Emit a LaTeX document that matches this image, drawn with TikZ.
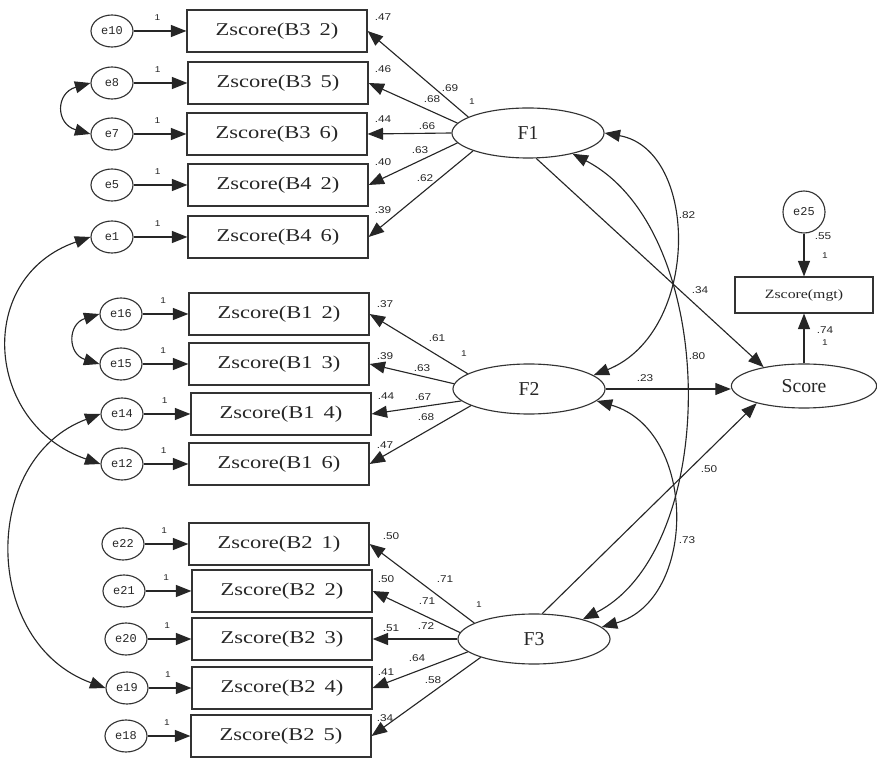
\documentclass[tikz,border=0pt]{standalone}
\usepackage{fontspec}
\setmainfont{Liberation Serif}
\newfontfamily\boxfont[FakeStretch=1.25]{Liberation Serif}
\newfontfamily\numfont[FakeStretch=1.2]{Liberation Sans}
\newfontfamily\errfont{Liberation Mono}
\usetikzlibrary{shapes.geometric,arrows.meta}

\begin{document}
\begin{tikzpicture}[
    x=0.025cm, y=-0.025cm,
    indicator/.style={rectangle, draw=black!80, line width=0.8pt, minimum width=4.5cm, minimum height=1.05cm, inner sep=0pt, text=black!85, font=\boxfont\fontsize{12.8}{14}\selectfont},
    error/.style={ellipse, draw=black!80, line width=0.8pt, minimum width=1.05cm, minimum height=0.8cm, inner sep=0pt, text=black!85, font=\errfont\fontsize{8.5}{10}\selectfont},
    latent/.style={ellipse, draw=black!80, line width=0.8pt, minimum width=3.8cm, minimum height=1.25cm, inner sep=0pt, text=black!85, font=\fontsize{14}{16}\selectfont},
    num/.style={font=\numfont\fontsize{7}{8}\selectfont, inner sep=0pt, text=black!85},
    unit/.style={font=\numfont\fontsize{6}{7}\selectfont, inner sep=0pt, text=black!85},
    one/.style={unit, pos=0.45, above=7pt},
    arrow/.style={->, >={Triangle[length=11pt, width=8.5pt]}, line width=0.8pt, draw=black!85},
    cov/.style={arrow, <->},
  ]
  \useasboundingbox (0,0) rectangle (877,761);

  % F1 block
  \node [indicator] (b32) at (277,31) {Zscore(B3\enspace 2)};
  \node [indicator] (b35) at (278,83) {Zscore(B3\enspace 5)};
  \node [indicator] (b36) at (277,134) {Zscore(B3\enspace 6)};
  \node [indicator] (b42) at (278,185) {Zscore(B4\enspace 2)};
  \node [indicator] (b46) at (278,237) {Zscore(B4\enspace 6)};
  \node [error] (e10) at (112,31) {e10};
  \node [error] (e8) at (112,83) {e8};
  \node [error] (e7) at (112,134) {e7};
  \node [error] (e5) at (112,185) {e5};
  \node [error] (e1) at (112,237) {e1};
  \draw [arrow] (e10) -- (b32) node [one] {1};
  \draw [arrow] (e8) -- (b35) node [one] {1};
  \draw [arrow] (e7) -- (b36) node [one] {1};
  \draw [arrow] (e5) -- (b42) node [one] {1};
  \draw [arrow] (e1) -- (b46) node [one] {1};
  \node [latent] (f1) at (528,133) {F1};
  \draw [arrow] (f1.165) -- (b32.east);
  \draw [arrow] (f1.172) -- (b35.east);
  \draw [arrow] (f1.180) -- (b36.east);
  \draw [arrow] (f1.188) -- (b42.east);
  \draw [arrow] (f1.198) -- (b46.east);
  \node [num] (r32) at (383,17) {.47};
  \node [num] (l32) at (450,88) {.69};
  \node [num] (r35) at (383,69) {.46};
  \node [num] (l35) at (432,99) {.68};
  \node [num] (r36) at (383,119) {.44};
  \node [num] (l36) at (427,126) {.66};
  \node [num] (r42) at (383,162) {.40};
  \node [num] (l42) at (420,150) {.63};
  \node [num] (r46) at (383,210) {.39};
  \node [num] (l46) at (425,178) {.62};
  \node [unit] (u1) at (472,102) {1};

  % F2 block
  \node [indicator] (b12) at (279,314) {Zscore(B1\enspace 2)};
  \node [indicator] (b13) at (279,364) {Zscore(B1\enspace 3)};
  \node [indicator] (b14) at (281,414) {Zscore(B1\enspace 4)};
  \node [indicator] (b16) at (279,464) {Zscore(B1\enspace 6)};
  \node [error] (e16) at (121,314) {e16};
  \node [error] (e15) at (121,364) {e15};
  \node [error] (e14) at (122,414) {e14};
  \node [error] (e12) at (122,464) {e12};
  \draw [arrow] (e16) -- (b12) node [one] {1};
  \draw [arrow] (e15) -- (b13) node [one] {1};
  \draw [arrow] (e14) -- (b14) node [one] {1};
  \draw [arrow] (e12) -- (b16) node [one] {1};
  \node [latent] (f2) at (529,389) {F2};
  \draw [arrow] (f2.166) -- (b12.east);
  \draw [arrow] (f2.176) -- (b13.east);
  \draw [arrow] (f2.190) -- (b14.east);
  \draw [arrow] (f2.196) -- (b16.east);
  \node [num] (r12) at (385,304) {.37};
  \node [num] (l12) at (437,338) {.61};
  \node [num] (r13) at (385,356) {.39};
  \node [num] (l13) at (422,368) {.63};
  \node [num] (r14) at (386,396) {.44};
  \node [num] (l14) at (423,397) {.67};
  \node [num] (r16) at (385,445) {.47};
  \node [num] (l16) at (426,417) {.68};
  \node [unit] (u2) at (464,354) {1};

  % F3 block
  \node [indicator] (b21) at (279,544) {Zscore(B2\enspace 1)};
  \node [indicator] (b22) at (282,591) {Zscore(B2\enspace 2)};
  \node [indicator] (b23) at (282,639) {Zscore(B2\enspace 3)};
  \node [indicator] (b24) at (282,688) {Zscore(B2\enspace 4)};
  \node [indicator] (b25) at (281,736) {Zscore(B2\enspace 5)};
  \node [error] (e22) at (123,544) {e22};
  \node [error] (e21) at (124,591) {e21};
  \node [error] (e20) at (126,639) {e20};
  \node [error] (e19) at (127,688) {e19};
  \node [error] (e18) at (126,736) {e18};
  \draw [arrow] (e22) -- (b21) node [one] {1};
  \draw [arrow] (e21) -- (b22) node [one] {1};
  \draw [arrow] (e20) -- (b23) node [one] {1};
  \draw [arrow] (e19) -- (b24) node [one] {1};
  \draw [arrow] (e18) -- (b25) node [one] {1};
  \node [latent] (f3) at (534,639) {F3};
  \draw [arrow] (f3.165) -- (b21.east);
  \draw [arrow] (f3.175) -- (b22.east);
  \draw [arrow] (f3.180) -- (b23.east);
  \draw [arrow] (f3.191) -- (b24.east);
  \draw [arrow] (f3.199) -- (b25.east);
  \node [num] (r21) at (391,536) {.50};
  \node [num] (l21) at (445,579) {.71};
  \node [num] (r22) at (386,579) {.50};
  \node [num] (l22) at (427,601) {.71};
  \node [num] (r23) at (391,628) {.51};
  \node [num] (l23) at (426,626) {.72};
  \node [num] (r24) at (386,672) {.41};
  \node [num] (l24) at (417,658) {.64};
  \node [num] (r25) at (385,718) {.34};
  \node [num] (l25) at (433,680) {.58};
  \node [unit] (u3) at (479,605) {1};

  % error covariances
  \draw [cov] (e8.west) .. controls +(-35,10) and +(-35,-10) .. (e7.west);
  \draw [cov] (e16.west) .. controls +(-32,10) and +(-32,-10) .. (e15.west);
  \draw [cov] (e1.west) .. controls +(-116,40) and +(-116,-40) .. (e12.west);
  \draw [cov] (e14.west) .. controls +(-120,45) and +(-124,-45) .. (e19.west);

  % factor covariances
  \draw [cov] (f1.east) .. controls +(95,17) and +(107,-43) .. (f2.12);
  \draw [cov] (f1.-25) .. controls +(148,77) and +(138,-70) .. (f3.22);
  \draw [cov] (f2.-10) .. controls +(101,29) and +(96,-27) .. (f3.10);
  \node [num] (c12) at (687,215) {.82};
  \node [num] (c13) at (697,356) {.80};
  \node [num] (c23) at (687,540) {.73};

  % structural part
  \node [latent, minimum width=3.63cm, minimum height=1.1cm] (score) at (804,386) {Score};
  \node [indicator, minimum width=3.45cm, minimum height=0.9cm, font=\boxfont\fontsize{9}{10}\selectfont] (mgt) at (804,295) {Zscore(mgt)};
  \node [error, circle, minimum size=1.05cm] (e25) at (804,212) {e25};
  \draw [arrow] (f1.-72) -- (score.155);
  \draw [arrow] (f2.east) -- (score.west |- f2.east);
  \draw [arrow] (f3.72) -- (score.200);
  \draw [arrow] (e25) -- (mgt);
  \draw [arrow] (score) -- (mgt);
  \node [num] (g1) at (700,290) {.34};
  \node [num] (g2) at (645,378) {.23};
  \node [num] (g3) at (709,469) {.50};
  \node [num] (rmgt) at (823,236) {.55};
  \node [unit] (umgt) at (825,256) {1};
  \node [num] (lscore) at (825,330) {.74};
  \node [unit] (uscore) at (825,343) {1};
\end{tikzpicture}
\end{document}
